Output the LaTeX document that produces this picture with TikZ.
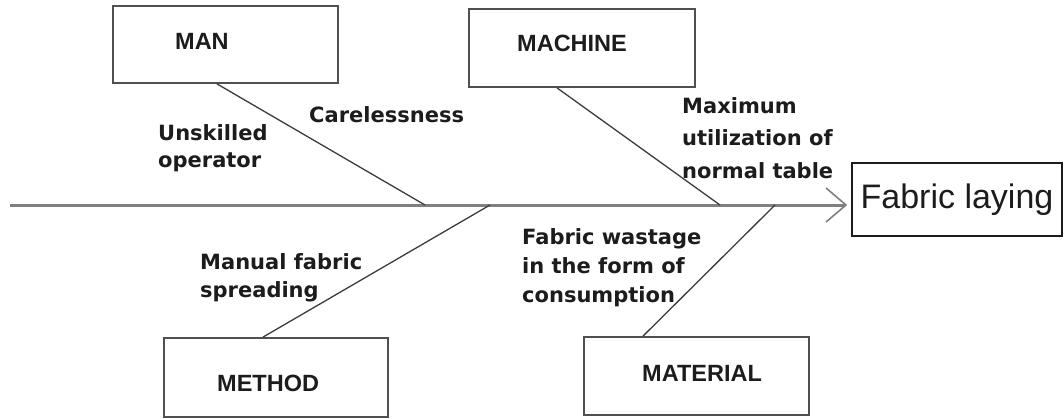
\documentclass[tikz,border=0pt]{standalone}
\usepackage{fontspec}
\setmainfont{Liberation Sans}
\newfontfamily\causefont{DejaVu Sans}
\usetikzlibrary{arrows.meta,calc}

\definecolor{ink}{HTML}{1C1C1C}
\definecolor{spinegray}{HTML}{808080}
\definecolor{bonegray}{HTML}{3C3C3C}
\definecolor{framegray}{HTML}{505050}

\tikzset{
  catbox/.style={draw=framegray, line width=1.8pt, minimum width=#1, minimum height=78pt, inner sep=0pt},
  cattext/.style={anchor=base west, inner sep=0pt, text=ink, font=\bfseries\fontsize{23.5}{28}\selectfont},
  causetext/.style={anchor=north west, inner sep=0pt, align=left, text=ink, font=\causefont\bfseries\fontsize{21}{#1}\selectfont},
  bone/.style={draw=bonegray, line width=1.3pt},
  spine/.style={draw=spinegray, line width=3pt},
  effectbox/.style={draw=ink, line width=1.5pt, minimum width=210pt, minimum height=73pt, inner sep=0pt,
                    text=ink, font=\fontsize{34}{39}\selectfont}
}

\begin{document}
\begin{tikzpicture}[x=1pt,y=-1pt]
  \useasboundingbox (0,0) rectangle (1064,418);

  % category boxes
  \node[catbox=225pt, minimum height=77pt] (man)      at (225.5,44.5) {};
  \node[catbox=226pt]                      (machine)  at (582,48)     {};
  \node[catbox=224pt, minimum height=79pt] (method)   at (276,377.5)  {};
  \node[catbox=225pt]                      (material) at (696.5,376)  {};

  \node[cattext] (manlbl)      at (175,49)  {MAN};
  \node[cattext] (machinelbl)  at (517,51)  {MACHINE};
  \node[cattext] (methodlbl)   at (217,391) {METHOD};
  \node[cattext] (materiallbl) at (642,381) {MATERIAL};

  % effect box
  \node[effectbox] (effect) at (957,199.5) {Fabric laying};

  % main spine with open arrow head
  \coordinate (tail) at (10,205);
  \draw[spine, -{Straight Barb[length=20pt,width=34pt,line width=1.6pt]}]
    (tail) -- ([xshift=-4pt]effect.west |- tail);

  % joints on the spine
  \coordinate (jman)      at (425,205);
  \coordinate (jmethod)   at (490,205);
  \coordinate (jmachine)  at (720,205);
  \coordinate (jmaterial) at (775,205);

  % feet of the bones on the boxes
  \coordinate (fman)      at ([xshift=-8.5pt]man.south);
  \coordinate (fmachine)  at ([xshift=-25pt]machine.south);
  \coordinate (fmethod)   at ([xshift=-13pt]method.north);
  \coordinate (fmaterial) at ([xshift=-53.5pt]material.north);

  \draw[bone] (fman) -- (jman);
  \draw[bone] (fmachine) -- (jmachine);
  \draw[bone] (fmethod) -- (jmethod);
  \draw[bone] (fmaterial) -- (jmaterial);

  % causes
  \node[causetext=26]   (careless)  at (309,106) {Carelessness};
  \node[causetext=27]   (unskilled) at (158,124) {Unskilled\\operator};
  \node[causetext=32.5] (maxutil)   at (682,97)  {Maximum\\utilization of\\normal table};
  \node[causetext=28]   (manual)    at (200,253) {Manual fabric\\spreading};
  \node[causetext=29]   (wastage)   at (522,228) {Fabric wastage\\in the form of\\consumption};
\end{tikzpicture}
\end{document}
